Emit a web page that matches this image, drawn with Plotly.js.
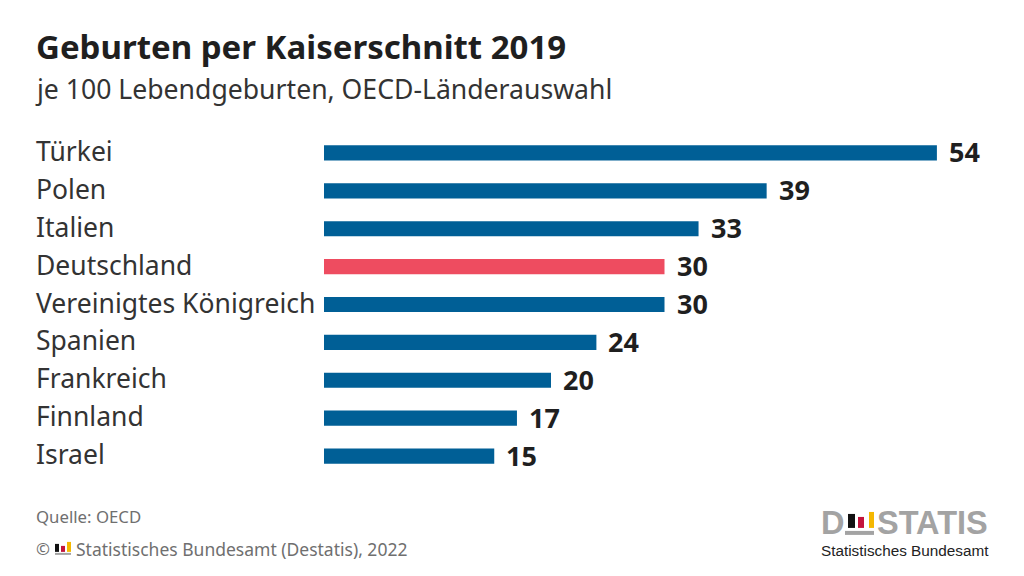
<!DOCTYPE html>
<html><head><meta charset="utf-8">
<script src="https://cdn.plot.ly/plotly-3.0.1.min.js"></script>
<style>html,body{margin:0;padding:0;background:#fff}#c{width:1024px;height:576px}</style>
</head><body><div id="c"></div>
<script>
const categories = ["Türkei","Polen","Italien","Deutschland","Vereinigtes Königreich","Spanien","Frankreich","Finnland","Israel"];
const values = [54,39,33,30,30,24,20,17,15];
const barColors = ["#005F96","#005F96","#005F96","#EE4C60","#005F96","#005F96","#005F96","#005F96","#005F96"];
const titleText = "Geburten per Kaiserschnitt 2019";
const subtitleText = "je 100 Lebendgeburten, OECD-Länderauswahl";
const sourceText = "Quelle: OECD";
const copyrightText = "© ";
const copyrightOrg = "Statistisches Bundesamt (Destatis), 2022";

const W=1024,H=576,L=324,T=133.5,B=475;
const pw=W-L, ph=B-T;
const PX=x=>(x-L)/pw, PY=y=>(B-y)/ph;
const F="'Noto Sans', sans-serif", LF="'Liberation Sans', sans-serif";
const ink="#1f1f1f", grey="#6f6f6f", logoGrey="#a3a3a3";

function label(text,x,y,size,color,family){
  return {text,xref:'paper',yref:'paper',x:PX(x),y:PY(y),xanchor:'left',yanchor:'middle',showarrow:false,
    font:{family:family||F,size,color}};
}
function rect(x0,y0,x1,y1,c){
  return {type:'rect',xref:'paper',yref:'paper',x0:PX(x0),x1:PX(x1),y0:PY(y0),y1:PY(y1),fillcolor:c,line:{width:0},layer:'above'};
}
const annotations=[
  label("<b>"+titleText+"</b>",34,46,33,ink),
  label(subtitleText,33,88,26.6,"#333333"),
  label(sourceText,34,517,16.8,grey),
  label(copyrightText,34,549,16.8,grey),
  label(copyrightOrg,74,549,17.5,grey),
  label("<b>D</b>",819,523,32.5,logoGrey,LF),
  label("<b>STATIS</b>",875,523,32.5,logoGrey,LF),
  label("Statistisches Bundesamt",819,550.5,15.3,"#222222",LF),
];
categories.forEach((c,i)=>{
  annotations.push({text:c,xref:'paper',yref:'y',x:PX(34),y:c,xanchor:'left',yanchor:'middle',showarrow:false,yshift:2,
    font:{family:F,size:26.5,color:"#333333"}});
  annotations.push({text:"<b>"+values[i]+"</b>",xref:'x',yref:'y',x:values[i],y:c,xanchor:'left',yanchor:'middle',xshift:10,yshift:1,showarrow:false,
    font:{family:F,size:27,color:ink}});
});
const shapes=[
  rect(848,514,855,528,"#111111"),rect(858,517,864,528,"#C3143C"),rect(869,512,874,528,"#F5B800"),rect(845,531,874,535,logoGrey),
  rect(55,544,59,552,"#111111"),rect(61,546,65,552,"#C3143C"),rect(67,542,71,552,"#F5B800"),rect(55,553,71,555,logoGrey),
];
Plotly.newPlot('c',[{type:'bar',orientation:'h',x:values,y:categories,marker:{color:barColors,line:{width:0}},hoverinfo:'skip'}],{
  width:W,height:H,margin:{l:L,r:0,t:T,b:H-B,pad:0},
  paper_bgcolor:'#fff',plot_bgcolor:'#fff',showlegend:false,bargap:0.6,
  xaxis:{range:[0,pw/11.35],visible:false,fixedrange:true},
  yaxis:{type:'category',categoryorder:'array',categoryarray:categories,range:[8.5,-0.5],showticklabels:false,showgrid:false,zeroline:false,showline:false,ticks:'',fixedrange:true},
  annotations,shapes
},{staticPlot:true,displayModeBar:false});
</script></body></html>
